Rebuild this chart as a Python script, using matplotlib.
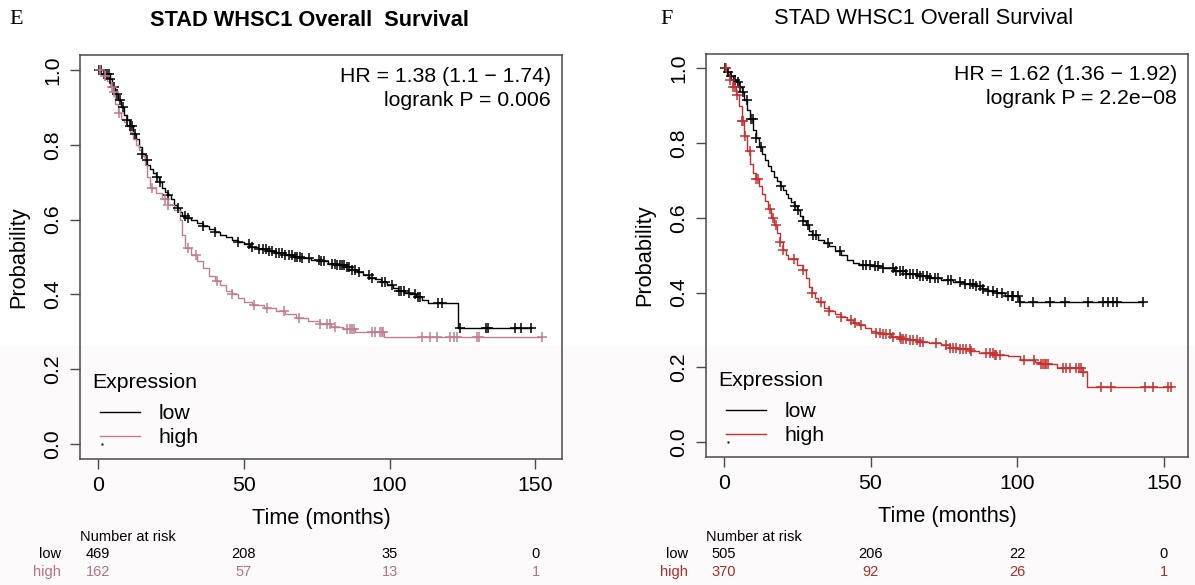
import numpy as np
import matplotlib
matplotlib.use("Agg")
import matplotlib.pyplot as plt
from matplotlib.patches import Rectangle
from matplotlib.transforms import blended_transform_factory

plt.rcParams['font.family'] = ['Liberation Sans', 'DejaVu Sans']

# ---------------- Panel E data ----------------
e_low_t = [0, 2, 4, 5, 6, 7, 8, 9, 10, 11, 12, 13, 14, 15, 16, 17, 18, 19, 20, 21, 22, 23, 24, 25, 26,
           27, 28, 29, 30, 32, 34, 36, 38, 40, 42, 44, 46, 48, 50, 52, 55, 58, 61, 64, 67, 70, 73, 76,
           79, 82, 85, 87, 89, 91, 93, 95, 97, 99, 101, 103, 105, 107, 109, 111, 113, 123.5]
e_low_s = [1.0, 0.99, 0.975, 0.955, 0.935, 0.92, 0.90, 0.88, 0.865, 0.85, 0.83, 0.815, 0.795, 0.775,
           0.76, 0.745, 0.735, 0.725, 0.715, 0.70, 0.685, 0.675, 0.665, 0.655, 0.64, 0.63, 0.62, 0.61,
           0.605, 0.598, 0.59, 0.582, 0.575, 0.568, 0.56, 0.553, 0.546, 0.54, 0.534, 0.528, 0.522, 0.515,
           0.51, 0.505, 0.50, 0.497, 0.493, 0.488, 0.482, 0.478, 0.472, 0.466, 0.46, 0.452, 0.445, 0.44,
           0.432, 0.425, 0.418, 0.41, 0.405, 0.40, 0.392, 0.385, 0.378, 0.309]
e_low_cens = [0.3, 1, 2, 3, 3.7, 4.3, 5.4, 6.6, 7.7, 8.5, 10, 11.1, 11.7, 12.8, 15.1, 16.8, 20.2, 21.3,
              24.2, 27.6, 29.8, 31, 36.1, 40.1, 48, 51.8, 53, 55.2, 56.5, 57.5, 58.5, 59.8, 61, 62, 63,
              64.3, 65.5, 66.6, 67.5, 68.3, 69.2, 70, 72.3, 75.7, 76.5, 77.4, 80.3, 81.2, 82, 83, 83.7,
              84.5, 85.4, 86.2, 87.1, 88.2, 89.4, 92.8, 94, 97.4, 98.5, 100.8, 103.1, 104, 104.8, 106.5,
              108.8, 109.6, 110.5, 116.7, 117.9, 124.1, 133.2, 133.8, 142.9, 145.2, 148.6]

e_high_t = [0, 2, 3, 4, 5, 6, 7, 8, 9, 10, 11, 12, 13, 14, 15, 16, 17, 18, 20, 22, 24, 26, 28, 29, 30,
            32, 34, 36, 38, 40, 42, 44, 46, 48, 50, 53, 57, 61, 64, 68, 72, 76, 80, 84, 88, 98]
e_high_s = [1.0, 0.985, 0.97, 0.955, 0.94, 0.91, 0.885, 0.87, 0.86, 0.85, 0.835, 0.815, 0.80, 0.785,
            0.77, 0.745, 0.715, 0.685, 0.67, 0.655, 0.64, 0.625, 0.60, 0.56, 0.525, 0.505, 0.49, 0.47,
            0.45, 0.435, 0.425, 0.41, 0.40, 0.39, 0.38, 0.372, 0.363, 0.355, 0.348, 0.338, 0.33, 0.322,
            0.314, 0.307, 0.30, 0.285]
e_high_cens = [0.9, 2.6, 4.9, 5.4, 7.1, 18.4, 22.9, 24.1, 30.9, 33.7, 41, 46, 53.5, 58, 63.7, 68.9,
               76.3, 78.6, 79.7, 81.4, 85.4, 86.5, 87.1, 87.7, 93.9, 95.1, 96.8, 97.3, 97.9, 111.1, 114,
               116.3, 120.8, 122, 123.1, 129.9, 130.5, 152.1]

# ---------------- Panel F data ----------------
f_low_t = [0, 1, 2, 3, 4, 5, 6, 7, 8, 9, 10, 11, 12, 13, 14, 15, 16, 17, 18, 19, 20, 21, 22, 23, 24,
           25, 26, 27, 28, 29, 30, 32, 34, 36, 38, 40, 42, 44, 46, 50, 54, 58, 62, 66, 70, 74, 78, 82,
           86, 88, 90, 93, 96, 100.5]
f_low_s = [1.0, 0.99, 0.98, 0.97, 0.963, 0.95, 0.937, 0.915, 0.89, 0.865, 0.835, 0.815, 0.79, 0.77,
           0.755, 0.74, 0.725, 0.71, 0.698, 0.686, 0.675, 0.664, 0.653, 0.642, 0.632, 0.62, 0.606, 0.592,
           0.58, 0.566, 0.553, 0.542, 0.534, 0.524, 0.512, 0.50, 0.488, 0.48, 0.475, 0.47, 0.466, 0.458,
           0.451, 0.445, 0.44, 0.435, 0.428, 0.423, 0.417, 0.41, 0.404, 0.398, 0.392, 0.376]
f_low_cens = [0.5, 1.4, 2.5, 3.7, 4.8, 5.4, 6.5, 7.7, 9.4, 9.9, 11.1, 12.8, 19.5, 24.1, 25.3, 27, 28.7,
              30.4, 31.5, 35.5, 39.5, 47.4, 48.6, 49.7, 51.5, 52.6, 54.3, 57.7, 58.8, 59.9, 61.1, 62.2,
              63.3, 64.5, 65.7, 66.8, 67.9, 69.1, 70.2, 71.9, 73, 76.4, 77.5, 80.5, 82.2, 83.9, 85, 86.1,
              87.3, 88.4, 90.1, 91.8, 93, 94.7, 97, 98.1, 98.7, 100.4, 100.9, 105.4, 111.2, 116.3, 124.3,
              129.4, 131.1, 132.8, 134, 143]

f_high_t = [0, 1, 2, 3, 4, 5, 6, 7, 8, 9, 10, 11, 12, 13, 14, 15, 16, 17, 18, 19, 20, 21, 22, 25, 27,
            28, 29, 30, 31, 32, 34, 36, 38, 40, 42, 44, 46, 48, 50, 52, 54, 57, 60, 63, 66, 70, 74, 77,
            80, 84, 87, 92, 97, 101, 106, 108, 113.5, 122.5, 123.8]
f_high_s = [1.0, 0.985, 0.97, 0.95, 0.93, 0.90, 0.86, 0.82, 0.78, 0.745, 0.72, 0.705, 0.685, 0.665,
            0.645, 0.625, 0.60, 0.58, 0.56, 0.535, 0.515, 0.50, 0.49, 0.475, 0.46, 0.44, 0.415, 0.40,
            0.385, 0.375, 0.36, 0.35, 0.342, 0.335, 0.328, 0.32, 0.312, 0.305, 0.298, 0.293, 0.288,
            0.282, 0.277, 0.272, 0.268, 0.265, 0.26, 0.253, 0.248, 0.243, 0.238, 0.234, 0.23, 0.22,
            0.215, 0.21, 0.197, 0.188, 0.148]
f_high_cens = [0.7, 2, 3.1, 3.7, 4.3, 6, 6.5, 7.1, 8.9, 11.1, 11.7, 15.6, 16.8, 17.9, 19, 20.1, 24, 27,
               30, 33, 36, 40, 43.5, 44.6, 46.9, 52, 53.2, 54.3, 55.4, 56.5, 57.7, 59.9, 60.5, 61.1, 62.2,
               63.3, 64.5, 65.7, 66.8, 67.9, 72.5, 75.8, 77, 78.1, 79.3, 80.5, 81.6, 82.7, 83.9, 84.4,
               89.5, 90.6, 91.8, 92.3, 92.9, 94, 102.5, 105.9, 108.3, 108.8, 109.4, 110, 110.5, 115.6,
               116.7, 117.9, 120.1, 121.2, 121.8, 122.5, 128.7, 132.1, 143.5, 146.3, 151.4, 152.6]

# ---------------- Number at risk ----------------
risk_times = [0, 50, 100, 150]
e_risk_low = [469, 208, 35, 0]
e_risk_high = [162, 57, 13, 1]
f_risk_low = [505, 206, 22, 0]
f_risk_high = [370, 92, 26, 1]

x_ticks = [0, 50, 100, 150]
y_ticks = [0.0, 0.2, 0.4, 0.6, 0.8, 1.0]

panels = [
    dict(letter="E", title="STAD WHSC1 Overall  Survival", bold=True,
         hr="HR = 1.38 (1.1 \u2212 1.74)", p="logrank P = 0.006",
         low=(e_low_t, e_low_s, e_low_cens), high=(e_high_t, e_high_s, e_high_cens),
         risk_low=e_risk_low, risk_high=e_risk_high, high_col='#c07f92', high_txt='#b4708a',
         rect=[80 / 1195, 1 - 459 / 585, 482 / 1195, 404 / 585], xlim=(-6.12, 159.1),
         title_xy=(309 / 1195, 1 - 20 / 585), letter_xy=(16 / 1195, 1 - 20 / 585),
         risk_label_x=61 / 1195),
    dict(letter="F", title="STAD WHSC1 Overall Survival", bold=False,
         hr="HR = 1.62 (1.36 \u2212 1.92)", p="logrank P = 2.2e\u221208",
         low=(f_low_t, f_low_s, f_low_cens), high=(f_high_t, f_high_s, f_high_cens),
         risk_low=f_risk_low, risk_high=f_risk_high, high_col='#c8302f', high_txt='#b02a2a',
         rect=[706 / 1195, 1 - 457 / 585, 482 / 1195, 403.5 / 585], xlim=(-6.12, 158.3),
         title_xy=(924 / 1195, 1 - 18 / 585), letter_xy=(667 / 1195, 1 - 19 / 585),
         risk_label_x=688 / 1195),
]

fig = plt.figure(figsize=(11.95, 5.85), dpi=100)
fig.patch.set_facecolor('white')
fig.patches.append(Rectangle((0, 0), 1, 1 - 345 / 585, transform=fig.transFigure,
                             facecolor='#fdfafb', edgecolor='none', zorder=-10))

spine_col = '#4a4a4a'
FS = 15.3


def draw_km(ax, t, s, cens, color):
    t = np.asarray(t, float)
    s = np.asarray(s, float)
    cens = np.asarray(cens, float)
    t_end = max(t[-1], cens.max())
    tt = np.append(t, t_end)
    ss = np.append(s, s[-1])
    ax.plot(tt, ss, drawstyle='steps-post', color=color, lw=1.0, zorder=3)
    idx = np.searchsorted(t, cens, side='right') - 1
    ax.plot(cens, s[idx], ls='none', marker='+', ms=7, mew=1.1, color=color, zorder=4)


for P in panels:
    ax = fig.add_axes(P['rect'])
    ax.set_facecolor('none')
    ax.set_xlim(*P['xlim'])
    ax.set_ylim(-0.04, 1.04)
    for sp in ax.spines.values():
        sp.set_color(spine_col)
        sp.set_linewidth(1.1)

    draw_km(ax, *P['low'], color='black')
    draw_km(ax, *P['high'], color=P['high_col'])

    ax.set_xticks(x_ticks)
    ax.set_xticklabels([str(v) for v in x_ticks])
    ax.set_yticks(y_ticks)
    ax.set_yticklabels([f"{v:.1f}" for v in y_ticks], rotation=90, va='center')
    ax.tick_params(axis='both', direction='out', length=7, width=1.0, color=spine_col,
                   labelsize=FS, labelcolor='black')
    ax.tick_params(axis='x', pad=5)
    ax.tick_params(axis='y', pad=6)

    ax.set_xlabel("Time (months)", fontsize=FS + 0.4)
    ax.xaxis.set_label_coords(0.5, -0.148)
    ax.xaxis.label.set_va('center')
    ax.set_ylabel("Probability", fontsize=FS + 0.4)
    ax.yaxis.set_label_coords(-0.128, 0.5)
    ax.yaxis.label.set_va('center')

    ax.text(0.977, 0.948, P['hr'], transform=ax.transAxes, ha='right', va='center', fontsize=FS)
    ax.text(0.977, 0.888, P['p'], transform=ax.transAxes, ha='right', va='center', fontsize=FS)

    # legend (drawn manually to mimic the R legend)
    ax.text(0.025, 0.189, "Expression", transform=ax.transAxes, ha='left', va='center', fontsize=FS)
    ax.plot([0.041, 0.125], [0.116, 0.116], transform=ax.transAxes, color='black', lw=1.0)
    ax.text(0.163, 0.113, "low", transform=ax.transAxes, ha='left', va='center', fontsize=FS)
    ax.plot([0.041, 0.125], [0.057, 0.057], transform=ax.transAxes, color=P['high_col'], lw=1.0)
    ax.text(0.163, 0.054, "high", transform=ax.transAxes, ha='left', va='center', fontsize=FS)
    ax.plot([0.045], [0.037], transform=ax.transAxes, marker='.', ms=1.5, color='#333333')

    # titles
    fig.text(*P['title_xy'], P['title'], ha='center', va='center', fontsize=FS + 0.4,
             fontweight='bold' if P['bold'] else 'normal')
    fig.text(*P['letter_xy'], P['letter'], ha='center', va='center', fontsize=16,
             family=['Liberation Serif', 'DejaVu Serif'])

    # number at risk table
    tr = blended_transform_factory(ax.transData, fig.transFigure)
    fig.text(P['rect'][0], 1 - 537 / 585, "Number at risk", ha='left', va='center', fontsize=10.5)
    fig.text(P['risk_label_x'], 1 - 554 / 585, "low", ha='right', va='center', fontsize=10.5)
    fig.text(P['risk_label_x'], 1 - 572 / 585, "high", ha='right', va='center', fontsize=10.5,
             color=P['high_txt'])
    for xt, nl, nh in zip(risk_times, P['risk_low'], P['risk_high']):
        ax.text(xt, 1 - 554 / 585, str(nl), transform=tr, ha='center', va='center', fontsize=10.5)
        ax.text(xt, 1 - 572 / 585, str(nh), transform=tr, ha='center', va='center', fontsize=10.5,
                color=P['high_txt'])

fig.savefig("out.png", dpi=100)
